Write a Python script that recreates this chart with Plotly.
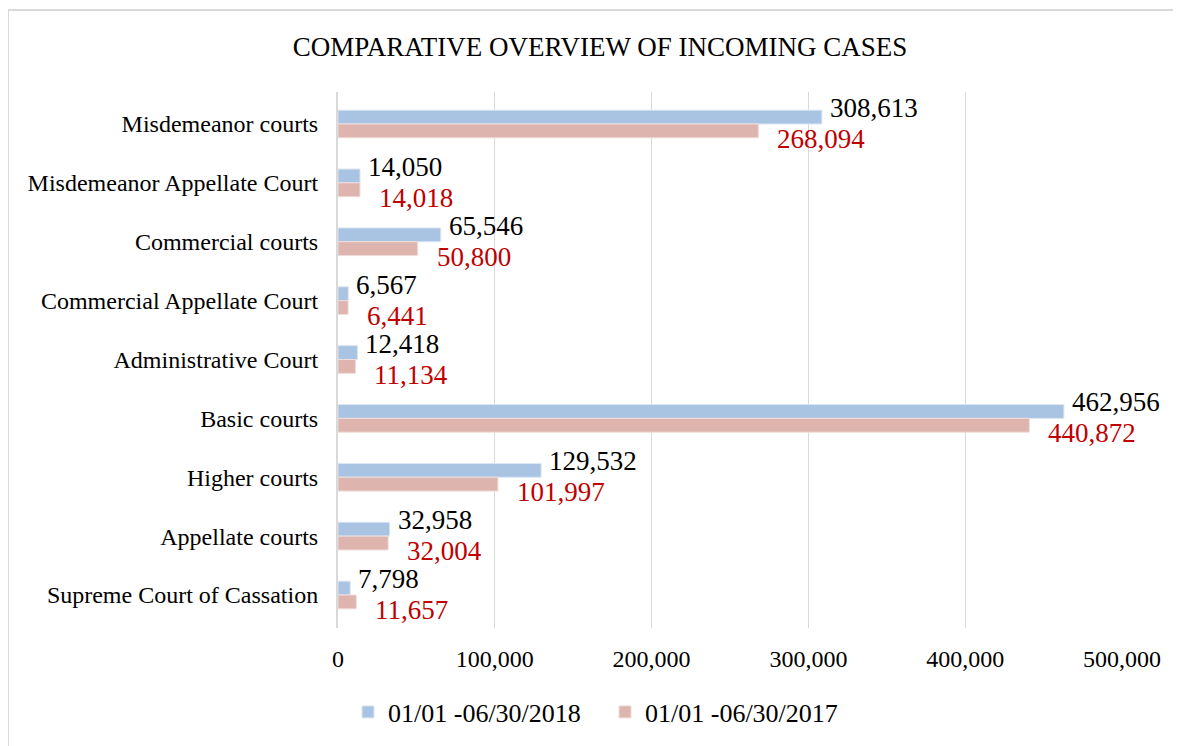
import plotly.graph_objects as go

categories = ["Misdemeanor courts", "Misdemeanor Appellate Court", "Commercial courts",
              "Commercial Appellate Court", "Administrative Court", "Basic courts",
              "Higher courts", "Appellate courts", "Supreme Court of Cassation"]
values_2018 = [308613, 14050, 65546, 6567, 12418, 462956, 129532, 32958, 7798]
values_2017 = [268094, 14018, 50800, 6441, 11134, 440872, 101997, 32004, 11657]
series_names = ["01/01 -06/30/2018", "01/01 -06/30/2017"]
tick_vals = [0, 100000, 200000, 300000, 400000, 500000]
tick_text = ["0", "100,000", "200,000", "300,000", "400,000", "500,000"]

FONT = "Liberation Serif, Times New Roman, serif"
BLUE = "#a9c3e2"
PINK = "#ddb4ae"

# page body has an 8px offset; plot area placed accordingly
L, T, PW, PH = 330, 84, 784, 536
W, H = 1181, 746

fig = go.Figure()
fig.add_trace(go.Bar(y=categories, x=values_2018, orientation="h", name=series_names[0],
                     marker=dict(color=BLUE, line=dict(color="#dbe6f3", width=1))))
fig.add_trace(go.Bar(y=categories, x=values_2017, orientation="h", name=series_names[1],
                     marker=dict(color=PINK, line=dict(color="#f0dcd9", width=1))))

for c, v in zip(categories, values_2018):
    fig.add_annotation(x=v, y=c, xref="x", yref="y", text=f"{v:,}", showarrow=False,
                       xanchor="left", yanchor="middle", xshift=6, yshift=16,
                       font=dict(family=FONT, size=27, color="#000000"))
for c, v in zip(categories, values_2017):
    fig.add_annotation(x=v, y=c, xref="x", yref="y", text=f"{v:,}", showarrow=False,
                       xanchor="left", yanchor="middle", xshift=17, yshift=-15,
                       font=dict(family=FONT, size=27, color="#c00000"))

# outer chart border (top and left edges visible)
fig.add_shape(type="rect", xref="paper", yref="paper",
              x0=(0 - L) / PW, x1=(W + 20 - L) / PW,
              y0=-(H + 20 - T - PH) / PH, y1=1 + (T - 2) / PH,
              line=dict(color="#d9d9d9", width=2), fillcolor="rgba(0,0,0,0)", layer="below")

fig.update_layout(
    width=W, height=H,
    margin=dict(l=L, r=W - L - PW, t=T, b=H - T - PH, autoexpand=False),
    paper_bgcolor="white", plot_bgcolor="white",
    font=dict(family=FONT, size=24, color="#000000"),
    title=dict(text="COMPARATIVE OVERVIEW OF INCOMING CASES", x=592 / W, xref="container",
               xanchor="center", y=1 - 39 / H, yanchor="middle",
               font=dict(family=FONT, size=27, color="#000000")),
    barmode="group", bargap=0.53, bargroupgap=0.0,
    showlegend=True,
    legend=dict(orientation="h", x=(340 - L) / PW, xanchor="left", y=(T + PH - 704) / PH,
                yanchor="middle", font=dict(family=FONT, size=26), itemwidth=30,
                entrywidth=212, entrywidthmode="pixels", traceorder="normal"),
    xaxis=dict(range=[0, 500000], tickvals=tick_vals, ticktext=tick_text,
               showgrid=True, gridcolor="#d9d9d9", gridwidth=1, zeroline=False,
               showline=False, ticks="", ticklabelstandoff=14,
               tickfont=dict(family=FONT, size=24)),
    yaxis=dict(autorange="reversed", categoryorder="array", categoryarray=categories,
               showgrid=False, zeroline=False, showline=True, linecolor="#d9d9d9", linewidth=2,
               ticks="", ticklabelstandoff=13, tickfont=dict(family=FONT, size=24)),
)

fig.write_html("out.html")
